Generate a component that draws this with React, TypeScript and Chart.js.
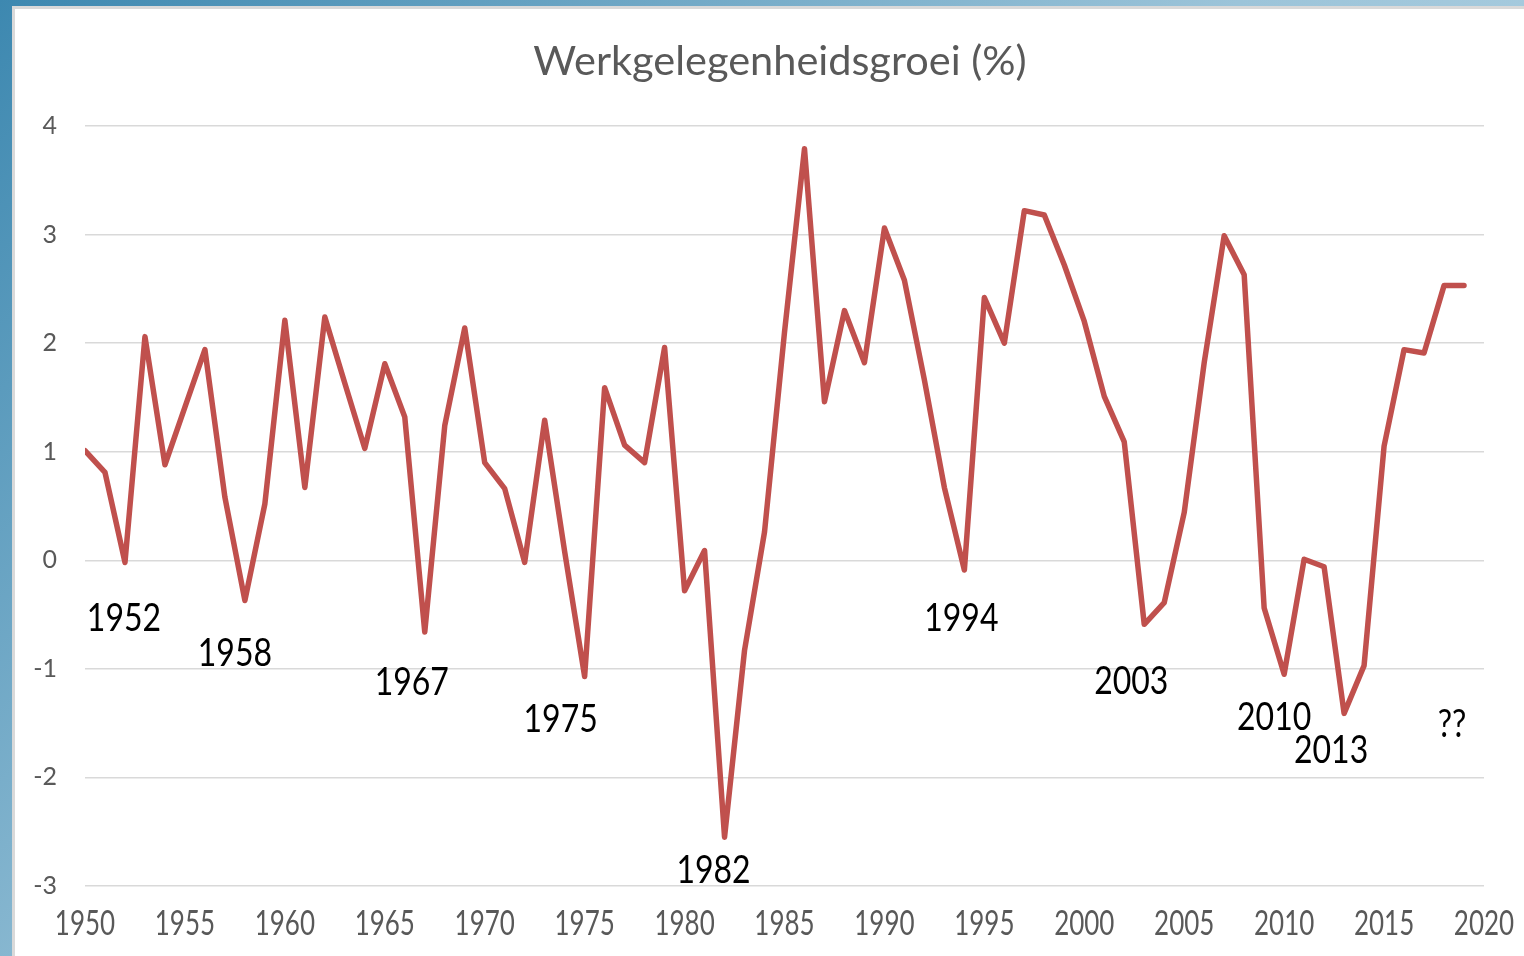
import React, { useEffect, useRef } from "react";
import { Chart, registerables } from "chart.js";

Chart.register(...registerables);

const years = [
  1950, 1951, 1952, 1953, 1954, 1955, 1956, 1957, 1958, 1959,
  1960, 1961, 1962, 1963, 1964, 1965, 1966, 1967, 1968, 1969,
  1970, 1971, 1972, 1973, 1974, 1975, 1976, 1977, 1978, 1979,
  1980, 1981, 1982, 1983, 1984, 1985, 1986, 1987, 1988, 1989,
  1990, 1991, 1992, 1993, 1994, 1995, 1996, 1997, 1998, 1999,
  2000, 2001, 2002, 2003, 2004, 2005, 2006, 2007, 2008, 2009,
  2010, 2011, 2012, 2013, 2014, 2015, 2016, 2017, 2018, 2019,
];

const growth = [
  1.01, 0.81, -0.02, 2.06, 0.88, 1.41, 1.94, 0.58, -0.37, 0.52,
  2.21, 0.67, 2.24, 1.63, 1.03, 1.81, 1.32, -0.66, 1.24, 2.14,
  0.9, 0.66, -0.02, 1.29, 0.08, -1.07, 1.59, 1.06, 0.9, 1.96,
  -0.28, 0.09, -2.55, -0.83, 0.26, 2.1, 3.79, 1.46, 2.3, 1.82,
  3.06, 2.58, 1.66, 0.67, -0.09, 2.42, 2.0, 3.22, 3.18, 2.72,
  2.2, 1.51, 1.09, -0.59, -0.39, 0.44, 1.82, 2.99, 2.63, -0.44,
  -1.05, 0.01, -0.06, -1.41, -0.97, 1.05, 1.94, 1.91, 2.53, 2.53,
];

const titleText = "Werkgelegenheidsgroei (%)";

const annotationTexts = ["1952", "1958", "1967", "1975", "1982", "1994", "2003", "2010", "2013", "??"];
const annotationYears = [1951.95, 1957.5, 1966.35, 1973.8, 1981.45, 1993.85, 2002.35, 2009.5, 2012.35, 2018.4];
const annotationValues = [-0.53, -0.85, -1.12, -1.46, -2.85, -0.53, -1.11, -1.44, -1.74, -1.5];

const FONT = "Lato, 'Open Sans', 'Noto Sans', sans-serif";

function drawStretched(
  ctx: CanvasRenderingContext2D,
  text: string,
  cx: number,
  cy: number,
  size: number,
  sy: number,
  color: string
) {
  ctx.save();
  ctx.font = `${size}px ${FONT}`;
  ctx.fillStyle = color;
  ctx.textAlign = "center";
  ctx.textBaseline = "alphabetic";
  ctx.translate(cx, cy);
  ctx.scale(1, sy);
  ctx.fillText(text, 0, (0.7165 * size) / 2);
  ctx.restore();
}

const textPlugin = {
  id: "customText",
  afterDraw(chart: any) {
    const ctx: CanvasRenderingContext2D = chart.ctx;
    const xs = chart.scales.x;
    const ys = chart.scales.y;
    // title
    ctx.save();
    ctx.font = `41.5px ${FONT}`;
    ctx.fillStyle = "#595959";
    ctx.textAlign = "center";
    ctx.textBaseline = "alphabetic";
    ctx.fillText(titleText, 780, 75);
    ctx.restore();
    // x tick labels
    xs.ticks.forEach((t: any) => {
      const px = xs.getPixelForValue(t.value);
      drawStretched(ctx, String(t.value), px, 923, 26, 1.3, "#595959");
    });
    // annotations
    annotationTexts.forEach((txt, i) => {
      const px = xs.getPixelForValue(annotationYears[i]);
      const py = ys.getPixelForValue(annotationValues[i]);
      drawStretched(ctx, txt, px, py, 32, 1.18, "#000000");
    });
  },
};

export default function App() {
  const canvasRef = useRef<HTMLCanvasElement | null>(null);

  useEffect(() => {
    if (!canvasRef.current) return;
    const chart = new Chart(canvasRef.current, {
      type: "line",
      data: {
        datasets: [
          {
            data: years.map((yr, i) => ({ x: yr, y: growth[i] })),
            borderColor: "#C0504D",
            borderWidth: 5.5,
            pointRadius: 0,
            tension: 0,
            borderJoinStyle: "round",
            borderCapStyle: "round",
            fill: false,
          },
        ],
      },
      options: {
        animation: false,
        responsive: false,
        layout: { padding: { top: 126, right: 40, left: 0, bottom: 0 } },
        plugins: {
          legend: { display: false },
          title: { display: false },
          tooltip: { enabled: false },
        },
        scales: {
          x: {
            type: "linear",
            min: 1950,
            max: 2020,
            ticks: { stepSize: 5, display: false },
            grid: { display: false },
            border: { display: false },
            afterFit: (s: any) => {
              s.height = 70;
            },
          },
          y: {
            min: -3,
            max: 4,
            ticks: {
              stepSize: 1,
              padding: 28,
              color: "#595959",
              font: { family: FONT, size: 25 },
            },
            grid: { color: "#d9d9d9", lineWidth: 1.5, drawTicks: false },
            border: { display: false },
            afterFit: (s: any) => {
              s.width = 85;
            },
          },
        },
      },
      plugins: [textPlugin],
    } as any);
    return () => chart.destroy();
  }, []);

  return (
    <div
      style={{
        position: "fixed",
        left: 0,
        top: 0,
        width: 1524,
        height: 956,
        overflow: "hidden",
        background: "linear-gradient(135deg, #3d88b0 0%, #9cc4d9 50%, #c0dcea 100%)",
      }}
    >
      <div
        style={{
          position: "absolute",
          left: 12,
          top: 6,
          width: 1524,
          height: 956,
          background: "#ffffff",
          borderLeft: "3px solid #d9d9d9",
          borderTop: "3px solid #d9d9d9",
          boxSizing: "border-box",
        }}
      />
      <canvas
        ref={canvasRef}
        width={1524}
        height={956}
        style={{ position: "absolute", left: 0, top: 0, width: 1524, height: 956 }}
      />
    </div>
  );
}
